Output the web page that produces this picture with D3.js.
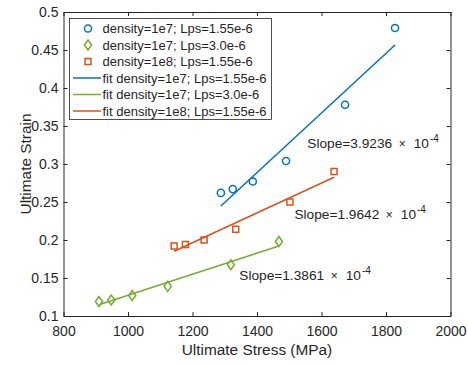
<!DOCTYPE html>
<html><head><meta charset="utf-8">
<script src="https://cdn.jsdelivr.net/npm/d3@7"></script>
<style>body{margin:0;background:#fff}svg{display:block;font-family:"Liberation Sans",Arial,sans-serif}</style>
</head><body><svg id="c" width="468" height="365"></svg>
<script>
// ---- data ----
const blueX = [1288, 1325, 1387, 1490, 1673, 1828];
const blueY = [0.262, 0.267, 0.277, 0.304, 0.378, 0.479];
const greenX = [910, 948, 1013, 1123, 1319, 1468];
const greenY = [0.119, 0.121, 0.127, 0.139, 0.1675, 0.198];
const orangeX = [1143, 1178, 1236, 1334, 1502, 1639];
const orangeY = [0.192, 0.194, 0.200, 0.214, 0.250, 0.290];
const blueFitX = [1288, 1828], blueFitY = [0.2447, 0.4566];
const greenFitX = [910, 1468], greenFitY = [0.1148, 0.1921];
const orangeFitX = [1143, 1639], orangeFitY = [0.1852, 0.2826];
const legendLabels = ["density=1e7; Lps=1.55e-6","density=1e7; Lps=3.0e-6","density=1e8; Lps=1.55e-6",
  "fit density=1e7; Lps=1.55e-6","fit density=1e7; Lps=3.0e-6","fit density=1e8; Lps=1.55e-6"];
const slopeLabels = ["Slope=3.9236","Slope=1.9642","Slope=1.3861"];
const slopeAt = [[1556,0.3207],[1516,0.2272],[1345,0.1474]];
const xTicks = [800,1000,1200,1400,1600,1800,2000];
const yTicks = [0.1,0.15,0.2,0.25,0.3,0.35,0.4,0.45,0.5];
const colors = {blue:"#0072BD", orange:"#D95319", green:"#77AC30"};

const svg = d3.select("#c");
const L=63.5, R=450.5, T=12, B=316;
const x = d3.scaleLinear().domain([800,2000]).range([L,R]);
const y = d3.scaleLinear().domain([0.1,0.5]).range([B,T]);

// axes
const ax = svg.append("g");
ax.append("g").attr("transform",`translate(0,${B})`)
  .call(d3.axisBottom(x).tickValues(xTicks).tickSizeInner(-4).tickSizeOuter(0).tickPadding(10).tickFormat(d3.format("d")));
ax.append("g").attr("transform",`translate(0,${T})`)
  .call(d3.axisTop(x).tickValues(xTicks).tickSizeInner(-4).tickSizeOuter(0).tickFormat(""));
ax.append("g").attr("transform",`translate(${L},0)`)
  .call(d3.axisLeft(y).tickValues(yTicks).tickSizeInner(-4).tickSizeOuter(0).tickPadding(5).tickFormat(d3.format("~g")));
ax.append("g").attr("transform",`translate(${R},0)`)
  .call(d3.axisRight(y).tickValues(yTicks).tickSizeInner(-4).tickSizeOuter(0).tickFormat(""));
ax.selectAll("path.domain").attr("stroke","#262626").attr("stroke-width",1);
ax.selectAll(".tick line").attr("stroke","#262626");
ax.selectAll(".tick text").attr("fill","#262626").attr("font-size",14).attr("font-family","Liberation Sans,Arial,sans-serif");

svg.append("text").attr("x",(L+R)/2).attr("y",355).attr("text-anchor","middle")
  .attr("font-size",15.4).attr("fill","#262626").text("Ultimate Stress (MPa)");
svg.append("text").attr("transform",`translate(31,${(T+B)/2}) rotate(-90)`).attr("text-anchor","middle")
  .attr("font-size",15.4).attr("fill","#262626").text("Ultimate Strain");

// fit lines
const line = d3.line().x(d=>x(d[0])).y(d=>y(d[1]));
[[blueFitX,blueFitY,colors.blue],[orangeFitX,orangeFitY,colors.orange],[greenFitX,greenFitY,colors.green]].forEach(([xs,ys,c])=>{
  svg.append("path").datum(xs.map((v,i)=>[v,ys[i]])).attr("d",line).attr("fill","none").attr("stroke",c).attr("stroke-width",1.5);
});

// markers
const circ = d3.symbol().type(d3.symbolCircle).size(40);
const sq = d3.symbol().type(d3.symbolSquare).size(36);
function diamond(){ return "M0,-5L3.6,0L0,5L-3.6,0Z"; }
svg.append("g").selectAll("path").data(blueX.map((v,i)=>[v,blueY[i]])).join("path")
  .attr("d",circ).attr("transform",d=>`translate(${x(d[0])},${y(d[1])})`).attr("fill","none").attr("stroke",colors.blue).attr("stroke-width",1.5);
svg.append("g").selectAll("path").data(greenX.map((v,i)=>[v,greenY[i]])).join("path")
  .attr("d",diamond).attr("transform",d=>`translate(${x(d[0])},${y(d[1])})`).attr("fill","none").attr("stroke",colors.green).attr("stroke-width",1.5);
svg.append("g").selectAll("path").data(orangeX.map((v,i)=>[v,orangeY[i]])).join("path")
  .attr("d",sq).attr("transform",d=>`translate(${x(d[0])},${y(d[1])})`).attr("fill","none").attr("stroke",colors.orange).attr("stroke-width",1.5);

// slope annotations
slopeLabels.forEach((s,i)=>{
  const t = svg.append("text").attr("x",x(slopeAt[i][0])).attr("y",y(slopeAt[i][1])).attr("font-size",13.7).attr("fill","#262626");
  t.append("tspan").text(s);
  t.append("tspan").attr("dx",6.5).attr("font-size",12).text("\u00D7");
  t.append("tspan").attr("dx",8).text("10");
  t.append("tspan").attr("dx",1).attr("dy",-6).attr("font-size",10).text("-4");
});

// legend
const lg = svg.append("g");
lg.append("rect").attr("x",69.5).attr("y",18.5).attr("width",202).attr("height",101).attr("fill","#fff").attr("stroke","#262626").attr("stroke-width",0.8);
const rowY = i => 28.5 + i*16.5;
legendLabels.forEach((lab,i)=>{
  const cy = rowY(i);
  if(i===0) lg.append("path").attr("d",circ).attr("transform",`translate(88,${cy})`).attr("fill","none").attr("stroke",colors.blue).attr("stroke-width",1.5);
  if(i===1) lg.append("path").attr("d",diamond).attr("transform",`translate(88,${cy})`).attr("fill","none").attr("stroke",colors.green).attr("stroke-width",1.5);
  if(i===2) lg.append("path").attr("d",sq).attr("transform",`translate(88,${cy})`).attr("fill","none").attr("stroke",colors.orange).attr("stroke-width",1.5);
  const lc = [null,null,null,colors.blue,colors.green,colors.orange][i];
  if(lc) lg.append("line").attr("x1",73).attr("x2",101).attr("y1",cy).attr("y2",cy).attr("stroke",lc).attr("stroke-width",1.5);
  lg.append("text").attr("x",102.5).attr("y",cy+4.7).attr("font-size",13).attr("fill","#262626").text(lab);
});
</script></body></html>
